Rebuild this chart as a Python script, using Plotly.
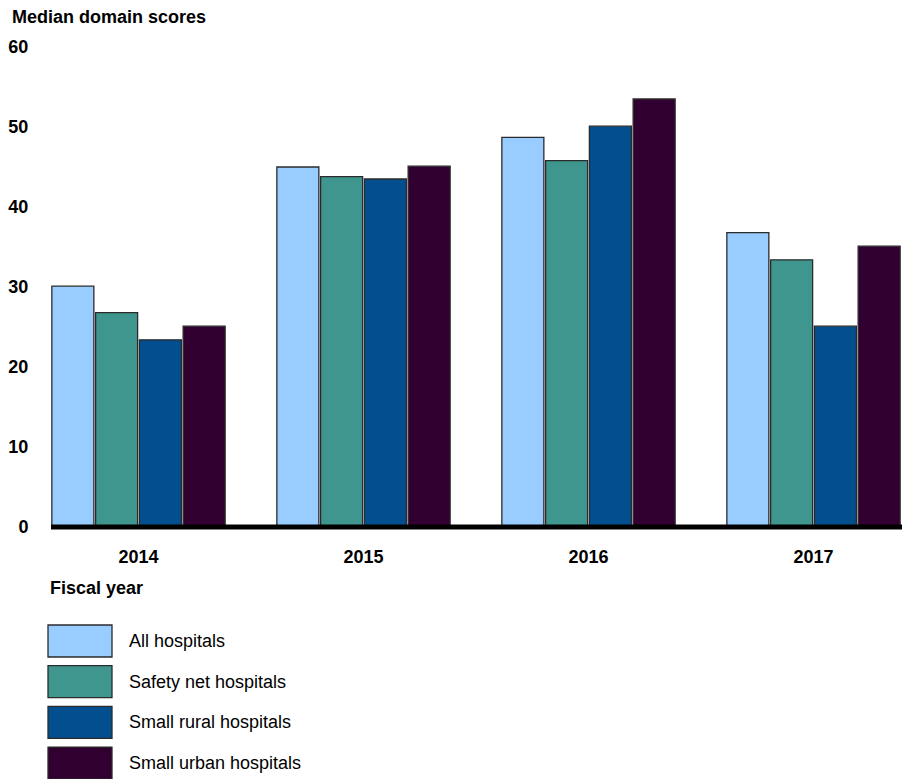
import plotly.graph_objects as go

years = ["2014", "2015", "2016", "2017"]
series_names = ["All hospitals", "Safety net hospitals", "Small rural hospitals", "Small urban hospitals"]
all_hosp = [30.1, 45.0, 48.7, 36.8]
safety_net = [26.8, 43.8, 45.8, 33.4]
small_rural = [23.4, 43.5, 50.1, 25.1]
small_urban = [25.1, 45.1, 53.5, 35.1]
colors = ["#99CCFF", "#3F968F", "#034E8E", "#320030"]
y_ticks = [0, 10, 20, 30, 40, 50, 60]

values = [all_hosp, safety_net, small_rural, small_urban]
FONT = "Liberation Sans, Arial, sans-serif"
FS = 18

fig = go.Figure()
for name, vals, col in zip(series_names, values, colors):
    fig.add_trace(go.Bar(
        x=list(range(len(years))), y=vals, name=name,
        marker=dict(color=col, line=dict(color="#2b2b2b", width=1.3)),
        showlegend=False,
    ))

L, R, T, B = 50, 0, 47, 252
W, H = 902, 779
pw = W - L - R
ph = H - T - B
# category centres at 138.5 + 225*i px
x0 = (L - 138.5) / 225.0
x1 = (W - R - 138.5) / 225.0

fig.update_layout(
    width=W, height=H,
    margin=dict(l=L, r=R, t=T, b=B, pad=0),
    plot_bgcolor="white", paper_bgcolor="white",
    barmode="group", bargap=0.222, bargroupgap=0.04,
    font=dict(family=FONT, size=FS, color="black"),
    xaxis=dict(
        range=[x0, x1], tickmode="array", tickvals=list(range(len(years))), ticktext=years,
        tickfont=dict(family=FONT, size=FS, color="black", weight="bold"),
        showgrid=False, zeroline=False, showline=False,
        ticks="outside", ticklen=13, tickcolor="rgba(0,0,0,0)",
    ),
    yaxis=dict(
        range=[0, 60], tickmode="array", tickvals=y_ticks,
        tickfont=dict(family=FONT, size=FS, color="black", weight="bold"),
        showgrid=False, zeroline=False, showline=False,
        ticks="outside", ticklen=17, tickcolor="rgba(0,0,0,0)",
    ),
)

# axis baseline (paper-referenced so it is not clipped by the plot area)
fig.add_shape(type="line", xref="paper", yref="paper", x0=1 / pw, x1=1, y0=0, y1=0,
              line=dict(color="black", width=5))

fig.add_annotation(xref="paper", yref="paper", x=(10 - L) / pw, y=1 + (T - 17) / ph,
                   text="<b>Median domain scores</b>", showarrow=False,
                   xanchor="left", yanchor="middle", font=dict(family=FONT, size=FS))
fig.add_annotation(xref="paper", yref="paper", x=(48 - L) / pw, y=-(588 - (H - B)) / ph,
                   text="<b>Fiscal year</b>", showarrow=False,
                   xanchor="left", yanchor="middle", font=dict(family=FONT, size=FS))

# custom legend
for i, (name, col) in enumerate(zip(series_names, colors)):
    top = 625 + i * 40.7
    bot = top + 32
    fig.add_shape(type="rect", xref="paper", yref="paper",
                  x0=(48 - L) / pw, x1=(112 - L) / pw,
                  y0=-(bot - (H - B)) / ph, y1=-(top - (H - B)) / ph,
                  fillcolor=col, line=dict(color="#2b2b2b", width=1.3))
    fig.add_annotation(xref="paper", yref="paper", x=(127 - L) / pw,
                       y=-((top + bot) / 2 - (H - B)) / ph,
                       text=name, showarrow=False, xanchor="left", yanchor="middle",
                       font=dict(family=FONT, size=FS))

fig.write_html("out.html", config={"displayModeBar": False},
               post_script="document.body.style.margin='0';")
